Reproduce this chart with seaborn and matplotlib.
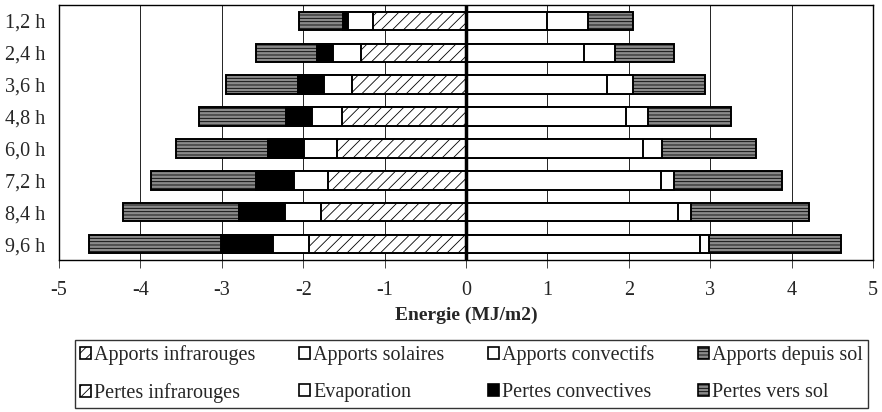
import numpy as np
import matplotlib
matplotlib.use("Agg")
import matplotlib.pyplot as plt
from matplotlib.patches import Patch
import seaborn as sns

# durées (axe vertical) et bilans d'énergie (MJ/m2)
durees = ["1,2 h", "2,4 h", "3,6 h", "4,8 h", "6,0 h", "7,2 h", "8,4 h", "9,6 h"]

apports_infrarouges = [0.0, 0.0, 0.0, 0.0, 0.0, 0.0, 0.0, 0.0]
apports_solaires = [0.99, 1.45, 1.73, 1.96, 2.17, 2.39, 2.61, 2.87]
apports_convectifs = [0.51, 0.38, 0.32, 0.27, 0.24, 0.17, 0.16, 0.11]
apports_sol = [0.55, 0.73, 0.89, 1.03, 1.15, 1.32, 1.44, 1.63]

pertes_infrarouges = [-1.14, -1.29, -1.40, -1.52, -1.58, -1.69, -1.78, -1.93]
evaporation = [-0.31, -0.34, -0.35, -0.37, -0.41, -0.42, -0.44, -0.44]
pertes_convectives = [-0.06, -0.20, -0.31, -0.32, -0.44, -0.47, -0.57, -0.64]
pertes_sol = [-0.54, -0.75, -0.89, -1.07, -1.13, -1.29, -1.42, -1.62]

sns.set_style("white")
plt.rcParams['font.family'] = ['Liberation Serif', 'DejaVu Serif']
plt.rcParams['axes.unicode_minus'] = False
plt.rcParams['hatch.linewidth'] = 0.6

# style de chaque série : (libellé, couleur, hachure)
styles_apports = [
    ("Apports infrarouges", "white", "///"),
    ("Apports solaires", "white", None),
    ("Apports convectifs", "white", None),
    ("Apports depuis sol", "#8a8a8a", "-----"),
]
styles_pertes = [
    ("Pertes infrarouges", "white", "///"),
    ("Evaporation", "white", None),
    ("Pertes convectives", "black", None),
    ("Pertes vers sol", "#8a8a8a", "-----"),
]

fig = plt.figure(figsize=(8.82, 4.12), dpi=100)
ax = fig.add_axes([59 / 882, 1 - 260 / 412, 814 / 882, 255 / 412])


def empiler(series, styles):
    # barres cumulées, dessinées de la plus longue à la plus courte
    cum = np.cumsum(np.array(series), axis=0)
    for i in range(len(series) - 1, -1, -1):
        _, couleur, hachure = styles[i]
        sns.barplot(x=cum[i], y=durees, order=durees, orient="h",
                    color=couleur, saturation=1, width=0.58,
                    edgecolor="black", linewidth=1.4, hatch=hachure,
                    ax=ax, zorder=3)


empiler([apports_infrarouges, apports_solaires, apports_convectifs, apports_sol],
        styles_apports)
empiler([pertes_infrarouges, evaporation, pertes_convectives, pertes_sol],
        styles_pertes)

ax.set_xlim(-5, 5)
ax.set_xticks(range(-5, 6))
ax.grid(axis="x", color="black", linewidth=0.6, zorder=0)
ax.grid(axis="y", visible=False)
ax.set_axisbelow(True)
ax.axvline(0, color="black", linewidth=2.5, zorder=4)

for sp in ax.spines.values():
    sp.set_color("black")
    sp.set_linewidth(1.0)

ax.tick_params(axis="x", length=6, width=0.6, direction="out", pad=9,
               labelsize=14.5, bottom=True)
ax.tick_params(axis="y", length=0, pad=10, labelsize=14.5)
ax.set_ylabel("")
ax.set_xlabel("Energie (MJ/m2)", fontsize=14, fontweight="bold", labelpad=5)

# légende sur deux lignes (ordre colonne par colonne), étalée sur la largeur
handles = []
for a, p in zip(styles_apports, styles_pertes):
    for lab, couleur, hachure in (a, p):
        handles.append(Patch(facecolor=couleur, edgecolor="black",
                             hatch=hachure, linewidth=1.2, label=lab))
leg = fig.legend(handles=handles, ncol=4, loc="center", mode="expand",
                 bbox_to_anchor=(65 / 882, 2 / 412, 813 / 882, 72 / 412),
                 fontsize=14.5, frameon=True, fancybox=False, edgecolor="black",
                 handlelength=0.55, handleheight=0.55, handletextpad=0.15,
                 columnspacing=0.8, labelspacing=0.9, borderpad=0.25)
leg.get_frame().set_linewidth(1.0)

plt.savefig("out.png", dpi=100)
